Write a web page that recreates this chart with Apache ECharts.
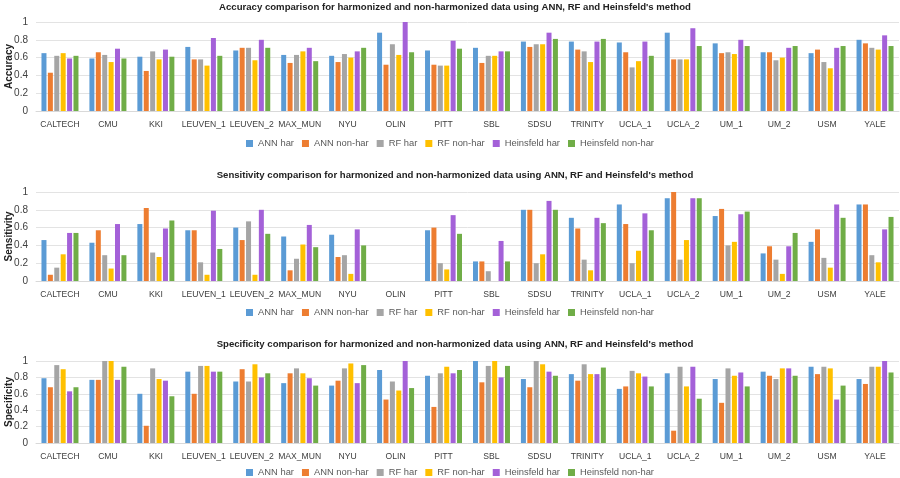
<!DOCTYPE html>
<html>
<head>
<meta charset="utf-8">
<script src="https://cdn.jsdelivr.net/npm/echarts@6/dist/echarts.min.js"></script>
<style>
  html, body { margin: 0; padding: 0; background: #fff; }
  #chart { width: 900px; height: 478px; }
</style>
</head>
<body>
<div id="chart"></div>
<script>
// sites
var sites = ["CALTECH", "CMU", "KKI", "LEUVEN_1", "LEUVEN_2", "MAX_MUN", "NYU", "OLIN", "PITT", "SBL",
  "SDSU", "TRINITY", "UCLA_1", "UCLA_2", "UM_1", "UM_2", "USM", "YALE"];
var seriesNames = ["ANN har", "ANN non-har", "RF har", "RF non-har", "Heinsfeld har", "Heinsfeld non-har"];
var yTicks = [0, 0.2, 0.4, 0.6, 0.8, 1];

// accuracy, one array per method
var accAnnHar     = [0.65, 0.59, 0.61, 0.72, 0.68, 0.63, 0.62, 0.88, 0.68, 0.71, 0.78, 0.78, 0.77, 0.88, 0.76, 0.66, 0.65, 0.80];
var accAnnNon     = [0.43, 0.66, 0.45, 0.58, 0.71, 0.54, 0.55, 0.52, 0.52, 0.54, 0.72, 0.69, 0.66, 0.58, 0.65, 0.66, 0.69, 0.76];
var accRfHar      = [0.62, 0.63, 0.67, 0.58, 0.71, 0.63, 0.64, 0.75, 0.51, 0.62, 0.75, 0.67, 0.49, 0.58, 0.66, 0.57, 0.55, 0.71];
var accRfNon      = [0.65, 0.55, 0.58, 0.51, 0.57, 0.67, 0.60, 0.63, 0.51, 0.62, 0.75, 0.55, 0.56, 0.58, 0.64, 0.60, 0.48, 0.69];
var accHeinsHar   = [0.59, 0.70, 0.69, 0.82, 0.80, 0.71, 0.67, 1.00, 0.79, 0.67, 0.88, 0.78, 0.78, 0.93, 0.80, 0.71, 0.71, 0.85];
var accHeinsNon   = [0.62, 0.59, 0.61, 0.62, 0.71, 0.56, 0.71, 0.66, 0.70, 0.67, 0.81, 0.81, 0.62, 0.73, 0.73, 0.73, 0.73, 0.73];

// sensitivity
var senAnnHar     = [0.46, 0.43, 0.64, 0.57, 0.60, 0.50, 0.52, 0, 0.57, 0.22, 0.80, 0.71, 0.86, 0.93, 0.73, 0.31, 0.44, 0.86];
var senAnnNon     = [0.07, 0.57, 0.82, 0.57, 0.46, 0.12, 0.27, 0, 0.60, 0.22, 0.80, 0.59, 0.64, 1.00, 0.81, 0.39, 0.58, 0.86];
var senRfHar      = [0.15, 0.29, 0.32, 0.21, 0.67, 0.25, 0.29, 0, 0.20, 0.11, 0.20, 0.24, 0.20, 0.24, 0.40, 0.24, 0.26, 0.29];
var senRfNon      = [0.30, 0.14, 0.27, 0.07, 0.07, 0.41, 0.08, 0, 0.13, 0, 0.30, 0.12, 0.34, 0.46, 0.44, 0.08, 0.15, 0.21];
var senHeinsHar   = [0.54, 0.64, 0.59, 0.79, 0.80, 0.63, 0.58, 0, 0.74, 0.45, 0.90, 0.71, 0.76, 0.93, 0.75, 0.39, 0.86, 0.58];
var senHeinsNon   = [0.54, 0.29, 0.68, 0.36, 0.53, 0.38, 0.40, 0, 0.53, 0.22, 0.80, 0.65, 0.57, 0.93, 0.78, 0.54, 0.71, 0.72];

// specificity
var speAnnHar     = [0.79, 0.77, 0.60, 0.87, 0.75, 0.73, 0.70, 0.89, 0.82, 1.00, 0.78, 0.84, 0.66, 0.85, 0.78, 0.87, 0.93, 0.78];
var speAnnNon     = [0.68, 0.77, 0.21, 0.60, 0.90, 0.85, 0.76, 0.53, 0.44, 0.74, 0.68, 0.76, 0.69, 0.15, 0.49, 0.82, 0.84, 0.72];
var speRfHar      = [0.95, 1.00, 0.91, 0.94, 0.75, 0.91, 0.91, 0.75, 0.85, 0.94, 1.00, 0.96, 0.88, 0.93, 0.91, 0.78, 0.93, 0.93];
var speRfNon      = [0.90, 1.00, 0.78, 0.94, 0.96, 0.85, 0.97, 0.64, 0.93, 1.00, 0.96, 0.84, 0.85, 0.69, 0.82, 0.91, 0.91, 0.93];
var speHeinsHar   = [0.63, 0.77, 0.76, 0.87, 0.80, 0.79, 0.73, 1.00, 0.85, 0.80, 0.87, 0.84, 0.81, 0.93, 0.86, 0.91, 0.53, 1.00];
var speHeinsNon   = [0.68, 0.93, 0.57, 0.87, 0.85, 0.70, 0.95, 0.67, 0.89, 0.94, 0.82, 0.92, 0.69, 0.54, 0.69, 0.82, 0.70, 0.86];

var colors = ["#5B9BD5", "#ED7D31", "#A5A5A5", "#FFC000", "#A461D8", "#70AD47"];
var fontFam = "'Liberation Sans', Arial, sans-serif";

var panels = [
  { title: "Accuracy comparison for harmonized and non-harmonized data using ANN, RF and Heinsfeld's method",
    yName: "Accuracy", data: [accAnnHar, accAnnNon, accRfHar, accRfNon, accHeinsHar, accHeinsNon],
    titleTop: -3, top: 22, height: 89, legendTop: 134 },
  { title: "Sensitivity comparison for harmonized and non-harmonized data using ANN, RF and Heinsfeld's method",
    yName: "Sensitivity", data: [senAnnHar, senAnnNon, senRfHar, senRfNon, senHeinsHar, senHeinsNon],
    titleTop: 165, top: 192, height: 89, legendTop: 303 },
  { title: "Specificity comparison for harmonized and non-harmonized data using ANN, RF and Heinsfeld's method",
    yName: "Specificity", data: [speAnnHar, speAnnNon, speRfHar, speRfNon, speHeinsHar, speHeinsNon],
    titleTop: 334, top: 361, height: 82, legendTop: 463 }
];

var option = {
  animation: false,
  color: colors,
  textStyle: { fontFamily: fontFam },
  title: [], legend: [], grid: [], xAxis: [], yAxis: [], series: []
};

panels.forEach(function(p, gi) {
  option.title.push({
    text: p.title, left: 450, textAlign: "center", top: p.titleTop,
    textStyle: { fontSize: 9.6, fontWeight: "bold", color: "#222", fontFamily: fontFam }
  });
  option.legend.push({
    data: seriesNames, left: "center", top: p.legendTop,
    itemWidth: 7, itemHeight: 7, itemGap: 8, icon: "rect",
    textStyle: { fontSize: 9.4, color: "#595959", fontFamily: fontFam }
  });
  option.grid.push({ left: 36, right: 1, top: p.top, height: p.height, containLabel: false, outerBoundsMode: "none" });
  option.xAxis.push({
    type: "category", gridIndex: gi, data: sites,
    axisLine: { lineStyle: { color: "#d9d9d9" } },
    axisTick: { show: false },
    axisLabel: { color: "#404040", fontSize: 8.6, interval: 0, margin: 9 }
  });
  option.yAxis.push({
    type: "value", gridIndex: gi, min: yTicks[0], max: yTicks[yTicks.length - 1], interval: 0.2,
    name: p.yName, nameLocation: "middle", nameGap: 22, nameMoveOverlap: false,
    nameTextStyle: { fontSize: 10, fontWeight: "bold", color: "#222" },
    axisLine: { show: false }, axisTick: { show: false },
    axisLabel: { color: "#404040", fontSize: 10, margin: 8 },
    splitLine: { lineStyle: { color: "#e3e3e3" } }
  });
  p.data.forEach(function(vals, si) {
    option.series.push({
      name: seriesNames[si], type: "bar", xAxisIndex: gi, yAxisIndex: gi,
      data: vals, barWidth: 5, barGap: "28%",
      itemStyle: { color: colors[si] }
    });
  });
});

var chart = echarts.init(document.getElementById("chart"));
chart.setOption(option);
</script>
</body>
</html>
